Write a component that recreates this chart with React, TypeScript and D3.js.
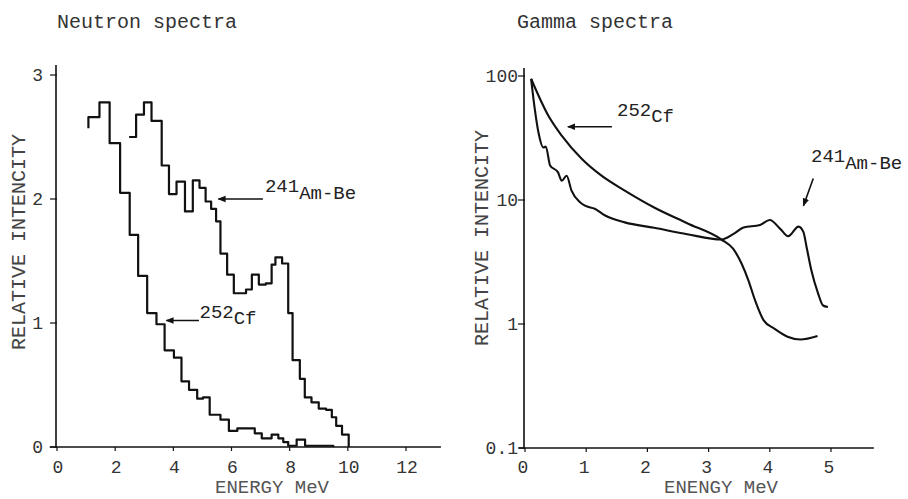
import React, { useEffect, useRef } from 'react';
import * as d3 from 'd3';

// Neutron spectra: histogram steps (bin start energy MeV, relative intensity)
const cfNeutronE = [1.08, 1.08, 1.46, 1.81, 2.17, 2.5, 2.79, 3.1, 3.42, 3.7, 4.02, 4.28, 4.54, 4.82, 5.02, 5.25, 5.62, 5.91, 6.2, 6.8, 7.04, 7.38, 7.61, 7.78, 7.95, 8.24, 8.53, 9.5];
const cfNeutronI = [2.57, 2.66, 2.78, 2.45, 2.05, 1.71, 1.38, 1.08, 0.99, 0.78, 0.72, 0.53, 0.46, 0.39, 0.4, 0.26, 0.22, 0.13, 0.15, 0.11, 0.07, 0.1, 0.07, 0.04, 0.01, 0.06, 0.01, 0];
const amNeutronE = [2.48, 2.72, 2.99, 3.25, 3.6, 3.85, 4.11, 4.4, 4.67, 4.9, 5.11, 5.3, 5.47, 5.62, 5.85, 6.08, 6.5, 6.7, 6.94, 7.18, 7.38, 7.51, 7.74, 7.95, 8.1, 8.35, 8.52, 8.75, 9.0, 9.25, 9.45, 9.6, 9.8, 10.03];
const amNeutronI = [2.5, 2.68, 2.78, 2.63, 2.27, 2.04, 2.14, 1.9, 2.15, 2.09, 1.98, 1.92, 1.82, 1.56, 1.39, 1.24, 1.27, 1.39, 1.31, 1.32, 1.47, 1.53, 1.48, 1.08, 0.7, 0.55, 0.4, 0.36, 0.31, 0.3, 0.24, 0.17, 0.1, 0];

// Gamma spectra (energy MeV, relative intensity, log scale)
const cfGammaE = [0.1, 0.38, 0.6, 0.93, 1.25, 1.63, 2.11, 2.65, 3.21, 3.4, 3.54, 3.65, 3.76, 3.9, 4.07, 4.29, 4.5, 4.78];
const cfGammaI = [95, 48, 33, 21.4, 15.7, 11.9, 8.7, 6.5, 4.8, 4.05, 3.06, 2.25, 1.55, 1.07, 0.92, 0.79, 0.75, 0.8];
const amGammaE = [0.1, 0.16, 0.22, 0.3, 0.34, 0.41, 0.54, 0.6, 0.68, 0.76, 0.9, 0.98, 1.14, 1.31, 1.63, 2.11, 2.65, 3.21, 3.4, 3.57, 3.84, 4.0, 4.17, 4.3, 4.47, 4.55, 4.6, 4.68, 4.79, 4.87, 4.95];
const amGammaI = [95, 54, 35, 26.5, 27, 19, 16.7, 14.3, 15.7, 11.9, 9.6, 9.0, 8.5, 7.5, 6.6, 5.97, 5.3, 4.8, 5.3, 6.0, 6.3, 6.9, 5.85, 5.1, 6.1, 5.5, 4.2, 2.7, 1.76, 1.41, 1.37];

const neutronXTicks = [0, 2, 4, 6, 8, 10, 12];
const neutronYTicks = [0, 1, 2, 3];
const gammaXTicks = [0, 1, 2, 3, 4, 5];
const gammaYTicks = [0.1, 1, 10, 100];
const gammaYLabels = ['0.1', '1', '10', '100'];

const FONT = '"Liberation Mono", "DejaVu Sans Mono", monospace';
const INK = '#111';

type G = d3.Selection<SVGGElement, unknown, null, undefined>;

function label(g: G, x: number, y: number, sup: string, main: string, dy: number) {
  const t = g.append('text').attr('x', x).attr('y', y)
    .attr('font-family', FONT).attr('font-size', 19).attr('fill', '#222');
  t.append('tspan').text(sup);
  t.append('tspan').attr('dy', dy).text(main);
}

function arrow(g: G, x1: number, y1: number, x2: number, y2: number) {
  g.append('line').attr('x1', x1).attr('y1', y1).attr('x2', x2).attr('y2', y2)
    .attr('stroke', INK).attr('stroke-width', 1.6).attr('marker-end', 'url(#head)');
}

function drawNeutron(g: G) {
  const x = d3.scaleLinear().domain([0, 12]).range([57, 406]);
  const y = d3.scaleLinear().domain([0, 3]).range([447, 75]);

  g.append('text').attr('x', 57).attr('y', 28).attr('font-family', FONT)
    .attr('font-size', 20).attr('fill', '#333').text('Neutron spectra');

  // axes
  g.append('line').attr('x1', x(0) - 1).attr('x2', x(0) - 1).attr('y1', y(3.08)).attr('y2', y(0) + 1)
    .attr('stroke', INK).attr('stroke-width', 1.6);
  g.append('line').attr('x1', x(-0.25)).attr('x2', x(13.2)).attr('y1', y(0)).attr('y2', y(0))
    .attr('stroke', INK).attr('stroke-width', 1.6);

  neutronYTicks.forEach((v) => {
    g.append('line').attr('x1', x(0) - 7).attr('x2', x(0)).attr('y1', y(v)).attr('y2', y(v))
      .attr('stroke', INK).attr('stroke-width', 1.2);
    g.append('text').attr('x', x(0) - 14).attr('y', y(v) + 6).attr('text-anchor', 'end')
      .attr('font-family', FONT).attr('font-size', 18).attr('fill', '#333').text(v);
  });
  neutronXTicks.forEach((v) => {
    g.append('line').attr('x1', x(v)).attr('x2', x(v)).attr('y1', y(0)).attr('y2', y(0) + 4)
      .attr('stroke', INK).attr('stroke-width', 1.2);
    g.append('text').attr('x', x(v) + 1).attr('y', 473).attr('text-anchor', 'middle')
      .attr('font-family', FONT).attr('font-size', 18).attr('fill', '#333').text(v);
  });

  g.append('text').attr('x', 272).attr('y', 493).attr('text-anchor', 'middle')
    .attr('font-family', FONT).attr('font-size', 19).attr('fill', '#555').text('ENERGY MeV');
  g.append('text').attr('transform', 'translate(18,242) rotate(-90)').attr('dy', '0.35em')
    .attr('text-anchor', 'middle').attr('font-family', FONT).attr('font-size', 20)
    .attr('fill', '#444').text('RELATIVE INTENCITY');

  const step = d3.line<[number, number]>()
    .x((d) => x(d[0])).y((d) => y(d[1])).curve(d3.curveStepAfter);

  const cf = cfNeutronE.map((e, i) => [e, cfNeutronI[i]] as [number, number]);
  const am = amNeutronE.map((e, i) => [e, amNeutronI[i]] as [number, number]);
  [cf, am].forEach((s) => {
    g.append('path').attr('d', step(s)).attr('fill', 'none').attr('stroke', INK)
      .attr('stroke-width', 2.2).attr('stroke-linejoin', 'round');
  });

  arrow(g, x(7.08), y(2.0), x(5.55), y(2.0));
  label(g, x(7.15), 192, '241', 'Am-Be', 7);
  arrow(g, x(4.88), y(1.02), x(3.76), y(1.02));
  label(g, x(4.9), 318, '252', 'Cf', 6);
}

function drawGamma(g: G) {
  const x = d3.scaleLinear().domain([0, 5]).range([525, 831]);
  const y = d3.scaleLog().domain([0.1, 100]).range([448, 76]);

  g.append('text').attr('x', 517).attr('y', 28).attr('font-family', FONT)
    .attr('font-size', 20).attr('fill', '#333').text('Gamma spectra');

  g.append('line').attr('x1', x(0) - 1).attr('x2', x(0) - 1).attr('y1', 68).attr('y2', y(0.1) + 1)
    .attr('stroke', INK).attr('stroke-width', 1.6);
  g.append('line').attr('x1', x(-0.1)).attr('x2', x(5.7)).attr('y1', y(0.1)).attr('y2', y(0.1))
    .attr('stroke', INK).attr('stroke-width', 1.6);

  gammaYTicks.forEach((v, i) => {
    g.append('line').attr('x1', x(0) - 7).attr('x2', x(0)).attr('y1', y(v)).attr('y2', y(v))
      .attr('stroke', INK).attr('stroke-width', 1.2);
    g.append('text').attr('x', x(0) - 7).attr('y', y(v) + 6).attr('text-anchor', 'end')
      .attr('font-family', FONT).attr('font-size', 18).attr('fill', '#333').text(gammaYLabels[i]);
  });
  gammaXTicks.forEach((v) => {
    g.append('line').attr('x1', x(v)).attr('x2', x(v)).attr('y1', y(0.1)).attr('y2', y(0.1) + 4)
      .attr('stroke', INK).attr('stroke-width', 1.2);
    g.append('text').attr('x', x(v) - 2).attr('y', 473).attr('text-anchor', 'middle')
      .attr('font-family', FONT).attr('font-size', 18).attr('fill', '#333').text(v);
  });

  g.append('text').attr('x', 721).attr('y', 493).attr('text-anchor', 'middle')
    .attr('font-family', FONT).attr('font-size', 19).attr('fill', '#555').text('ENENGY MeV');
  g.append('text').attr('transform', 'translate(481,238) rotate(-90)').attr('dy', '0.35em')
    .attr('text-anchor', 'middle').attr('font-family', FONT).attr('font-size', 20)
    .attr('fill', '#444').text('RELATIVE INTENCITY');

  const line = d3.line<[number, number]>()
    .x((d) => x(d[0])).y((d) => y(d[1])).curve(d3.curveMonotoneX);

  const cf = cfGammaE.map((e, i) => [e, cfGammaI[i]] as [number, number]);
  const am = amGammaE.map((e, i) => [e, amGammaI[i]] as [number, number]);
  [cf, am].forEach((s) => {
    g.append('path').attr('d', line(s)).attr('fill', 'none').attr('stroke', INK)
      .attr('stroke-width', 2.1).attr('stroke-linejoin', 'round');
  });

  arrow(g, x(1.42), y(39), x(0.7), y(39));
  label(g, 617, 116, '252', 'Cf', 6);
  arrow(g, x(4.71), y(14.9), x(4.55), y(9.0));
  label(g, 811, 162, '241', 'Am-Be', 7);
}

export default function App() {
  const ref = useRef<SVGSVGElement>(null);

  useEffect(() => {
    const svg = d3.select(ref.current);
    svg.selectAll('*').remove();
    svg.append('rect').attr('width', 908).attr('height', 499).attr('fill', '#fff');
    svg.append('defs').append('marker')
      .attr('id', 'head').attr('viewBox', '0 0 10 10').attr('refX', 9).attr('refY', 5)
      .attr('markerWidth', 5).attr('markerHeight', 5).attr('orient', 'auto')
      .append('path').attr('d', 'M0,1 L10,5 L0,9 z').attr('fill', INK);
    drawNeutron(svg.append('g') as unknown as G);
    drawGamma(svg.append('g') as unknown as G);
  }, []);

  return (
    <svg ref={ref} width={908} height={499}
      style={{ position: 'absolute', left: 0, top: 0, display: 'block' }} />
  );
}
